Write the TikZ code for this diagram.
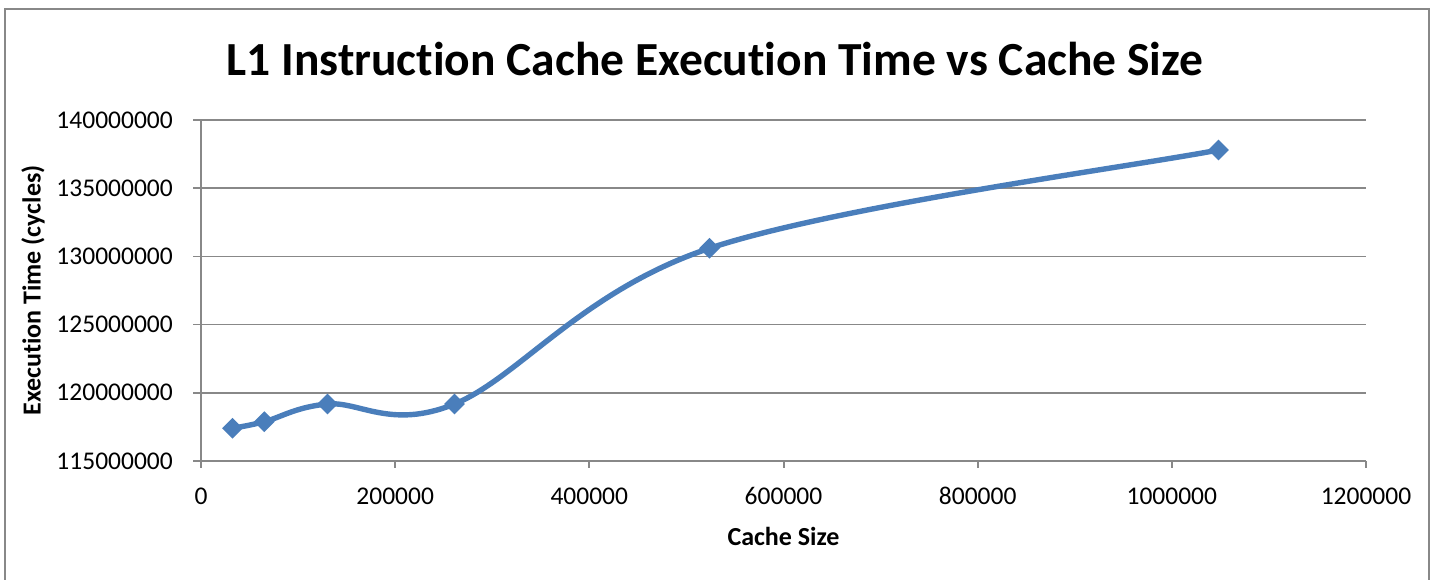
\documentclass[tikz,border=0pt]{standalone}
\usepackage{fontspec}
\setmainfont{Carlito}[Ligatures={NoCommon}]
\usetikzlibrary{shapes.geometric}
\definecolor{gridgray}{HTML}{888888}
\definecolor{series}{HTML}{4A7EBB}
\tikzset{
  grid line/.style={draw=gridgray, line width=1.4pt},
  axis line/.style={draw=gridgray, line width=2pt},
  ylab/.style={anchor=east, font=\fontsize{25.5}{30}\selectfont, inner sep=0pt},
  xlab/.style={anchor=base, font=\fontsize{25.5}{30}\selectfont, inner sep=0pt},
  marker/.style={diamond, fill=series, draw=none, minimum width=21pt, minimum height=21pt, inner sep=0pt},
  curve/.style={draw=series, line width=5.4pt, line cap=round, line join=round},
  ttl/.style={font=\fontsize{47.5}{56}\selectfont\bfseries, inner sep=0pt, anchor=base},
  atitle/.style={font=\fontsize{26}{30}\selectfont\bfseries, inner sep=0pt}
}
\begin{document}
\begin{tikzpicture}[x=1pt, y=-1pt]
\useasboundingbox (0,0) rectangle (1434,580);
% outer frame
\draw[draw=gridgray, line width=2pt] (5,600) -- (5,9) -- (1429,9) -- (1429,600);
% title
\node[ttl] (title) at (715,76) {L1 Instruction Cache Execution Time vs Cache Size};
% gridlines
\foreach \yy/\lab [count=\i] in {120/140000000, 188.2/135000000, 256.4/130000000, 324.6/125000000, 392.8/120000000, 461/115000000}{
  \coordinate (gl\i) at (201,\yy);
  \coordinate (gr\i) at (1366,\yy);
  \coordinate (gt\i) at (193,\yy);
  \draw[grid line] (gt\i) -- (gr\i);
  \node[ylab] (yl\i) at (173,\yy) {\lab};
}
% axes
\coordinate (origin) at (201,461);
\coordinate (ytop) at (201,120);
\coordinate (xend) at (1366,461);
\draw[axis line] (ytop) -- (origin) -- (xend);
\foreach \xx/\lab [count=\i] in {201/0, 395.2/200000, 589.3/400000, 783.5/600000, 977.7/800000, 1171.8/1000000, 1366/1200000}{
  \coordinate (xa\i) at (\xx,461);
  \coordinate (xb\i) at (\xx,468);
  \draw[axis line] (xa\i) -- (xb\i);
  \node[xlab] (xl\i) at (\xx,504) {\lab};
}
% axis titles
\node[atitle] (xtitle) at (783.5,536) {Cache Size};
\node[atitle, rotate=90] (ytitle) at (33,290.5) {Execution Time (cycles)};
% data points
\coordinate (p0) at (232.5,428.3);
\coordinate (p1) at (264.3,421.7);
\coordinate (p2) at (327.5,404);
\coordinate (p3) at (454.5,404);
\coordinate (p4) at (709.5,248.3);
\coordinate (p5) at (1218.5,150);
\draw[curve] (p0)
  .. controls (237.8,427.2) and (248.47,425.75) .. (p1)
  .. controls (280.13,417.65) and (295.8,406.95) .. (p2)
  .. controls (359.2,401.05) and (390.83,429.95) .. (p3)
  .. controls (518.17,378.05) and (582.17,290.63) .. (p4)
  .. controls (836.83,205.97) and (1133.67,166.38) .. (p5);
\foreach \i in {0,...,5}{
  \node[marker] (m\i) at (p\i) {};
}
\end{tikzpicture}
\end{document}
